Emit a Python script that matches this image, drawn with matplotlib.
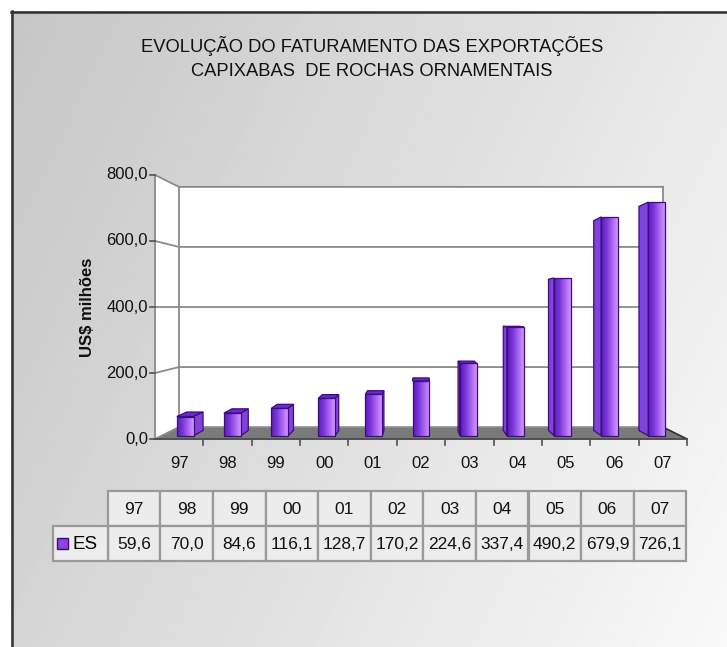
import numpy as np
import matplotlib
matplotlib.use('Agg')
import matplotlib.pyplot as plt
from matplotlib.patches import Polygon, Rectangle
from matplotlib.colors import LinearSegmentedColormap

# ---------------- data ----------------
years = ['97', '98', '99', '00', '01', '02', '03', '04', '05', '06', '07']
values = [59.6, 70.0, 84.6, 116.1, 128.7, 170.2, 224.6, 337.4, 490.2, 679.9, 726.1]
yticks = [0, 200, 400, 600, 800]
series_name = 'ES'
title = 'EVOLUÇÃO DO FATURAMENTO DAS EXPORTAÇÕES\nCAPIXABAS  DE ROCHAS ORNAMENTAIS'
ylabel = 'US$ milhões'


def fmt(v):
    return f'{v:.1f}'.replace('.', ',')


plt.rcParams['font.family'] = ['Liberation Sans', 'DejaVu Sans']
W, H = 727, 647
fig = plt.figure(figsize=(W / 100, H / 100), dpi=100)
TXT = '#111111'

# ---------------- background ----------------
bg = fig.add_axes([0, 0, 1, 1])
bg.set_axis_off()
bg.set_xlim(0, W)
bg.set_ylim(H, 0)
xx, yy = np.meshgrid(np.linspace(0, 1, 300), np.linspace(0, 1, 300))
shade = 0.775 + 0.14 * xx + 0.06 * yy
bg.imshow(shade, cmap='gray', vmin=0, vmax=1, extent=[11, W, H, 11],
          aspect='auto', interpolation='bilinear')
bg.add_patch(Rectangle((0, 0), W, 11, facecolor='white', edgecolor='none'))
bg.add_patch(Rectangle((0, 0), 11, H, facecolor='white', edgecolor='none'))
bg.plot([11, W], [11.5, 11.5], color='#303030', lw=1.8)
bg.plot([11.5, 11.5], [11, H], color='#303030', lw=1.8)

fig.text(372 / W, 1 - 58 / H, title, ha='center', va='center', fontsize=13.2,
         color=TXT, linespacing=1.55)
fig.text(88 / W, 1 - 307 / H, ylabel, rotation=90, ha='center', va='center',
         fontsize=12, fontweight='bold', color=TXT)

# ---------------- main (pseudo-3D) axes ----------------
ax = fig.add_axes([155 / W, (H - 439) / H, 532 / W, 264 / H])
ax.set_axis_off()
n = len(years)
ymax = yticks[-1]
ax.set_xlim(0, n)
ax.set_ylim(0, ymax)

xc, yc = n / 2, ymax / 2
S_BACK, S1, S2 = 0.91, 0.975, 0.935


def P(x, v, s):
    return (xc + (x - xc) * s, yc + (v - yc) * s)


def poly(pts, **kw):
    ax.add_patch(Polygon(pts, closed=True, clip_on=False, **kw))


# walls and floor
poly([P(0, 0, 1), P(n, 0, 1), P(n, 0, S_BACK), P(0, 0, S_BACK)],
     facecolor='#7a7a7a', edgecolor='none', zorder=1)
poly([P(0, 0, 1), P(0, ymax, 1), P(0, ymax, S_BACK), P(0, 0, S_BACK)],
     facecolor='white', edgecolor='none', zorder=1)
poly([P(0, 0, S_BACK), P(n, 0, S_BACK), P(n, ymax, S_BACK), P(0, ymax, S_BACK)],
     facecolor='white', edgecolor='none', zorder=1)

gcol = '#8a8a8a'
for t in yticks:
    pts = [P(0, t, 1), P(0, t, S_BACK), P(n, t, S_BACK)]
    ax.plot([p[0] for p in pts], [p[1] for p in pts], color=gcol, lw=1.3,
            zorder=2, clip_on=False)
for x in (0, n):
    a, b = P(x, 0, S_BACK), P(x, ymax, S_BACK)
    ax.plot([a[0], b[0]], [a[1], b[1]], color=gcol, lw=1.3, zorder=2, clip_on=False)
a, b = P(0, 0, 1), P(0, ymax, 1)
ax.plot([a[0], b[0]], [a[1], b[1]], color=gcol, lw=1.3, zorder=2, clip_on=False)
a, b = P(n, 0, S_BACK), P(n, 0, 1)
ax.plot([a[0], b[0]], [a[1], b[1]], color='#303030', lw=1.2, zorder=2, clip_on=False)
a, b = P(0, 0, 1), P(n, 0, 1)
ax.plot([a[0], b[0]], [a[1], b[1]], color='#505050', lw=1.4, zorder=6, clip_on=False)

# ticks and labels
px_x = n / 532.0
px_y = ymax / 264.0
for t in yticks:
    ax.plot([-5 * px_x, 0], [t, t], color='#505050', lw=1.2, clip_on=False)
    ax.text(-7 * px_x, t, fmt(t), ha='right', va='center', fontsize=12,
            color=TXT)
for i in range(1, n + 1):
    ax.plot([i, i], [0, -6 * px_y], color='#505050', lw=1.2, clip_on=False)
for i, yl in enumerate(years):
    ax.text(i + 0.5, -24 * px_y, yl, ha='center', va='center', fontsize=12,
            color=TXT)

# bars
grad_cmap = LinearSegmentedColormap.from_list(
    'bar', ['#5a1cb8', '#7a36d8', '#a865f0', '#d496ff'])
edge = '#3d0c7e'
hw = 0.18
grad = np.linspace(0, 1, 64).reshape(1, -1)
for i, v in enumerate(values):
    cx = i + 0.5
    xl, xr = cx - hw, cx + hw
    if v < yc:
        poly([P(xl, v, S1), P(xr, v, S1), P(xr, v, S2), P(xl, v, S2)],
             facecolor='#6a2bc8', edgecolor=edge, lw=0.9, zorder=4)
    if abs(cx - xc) > 1e-6:
        e = xr if cx < xc else xl
        poly([P(e, 0, S1), P(e, v, S1), P(e, v, S2), P(e, 0, S2)],
             facecolor='#7f43dc', edgecolor=edge, lw=0.9, zorder=4)
    (fx0, fy0), (fx1, fy1) = P(xl, 0, S1), P(xr, v, S1)
    im = ax.imshow(grad, cmap=grad_cmap, extent=[fx0, fx1, fy0, fy1],
                   aspect='auto', zorder=5, interpolation='bilinear')
    rect = Rectangle((fx0, fy0), fx1 - fx0, fy1 - fy0, facecolor='none',
                     edgecolor=edge, lw=0.9, zorder=5.5, clip_on=False)
    ax.add_patch(rect)
    im.set_clip_path(rect)
ax.set_xlim(0, n)
ax.set_ylim(0, ymax)

# ---------------- data table ----------------
tx0, tx1 = 107.7, 686.3
r0, r1, r2 = 491, 526, 561
cw = (tx1 - tx0) / n
cell_kw = dict(facecolor='#ececec', edgecolor='#999999', lw=1.6)
for i, (yl, v) in enumerate(zip(years, values)):
    x = tx0 + i * cw
    bg.add_patch(Rectangle((x, r0), cw, r1 - r0, **cell_kw))
    bg.add_patch(Rectangle((x, r1), cw, r2 - r1, **cell_kw))
    bg.text(x + cw / 2, (r0 + r1) / 2 + 1, yl, ha='center', va='center',
            fontsize=12.5, color=TXT)
    bg.text(x + cw / 2, (r1 + r2) / 2 + 1, fmt(v), ha='center', va='center',
            fontsize=12.5, color=TXT)
bg.add_patch(Rectangle((53, r1), tx0 - 53, r2 - r1, **cell_kw))
bg.add_patch(Rectangle((57, 538), 11, 11, facecolor='#8a44e6', edgecolor=edge, lw=1))
bg.text(72, (r1 + r2) / 2 + 1, series_name, ha='left', va='center', fontsize=13.5,
        color='#000000')

fig.savefig('out.png', dpi=100)
